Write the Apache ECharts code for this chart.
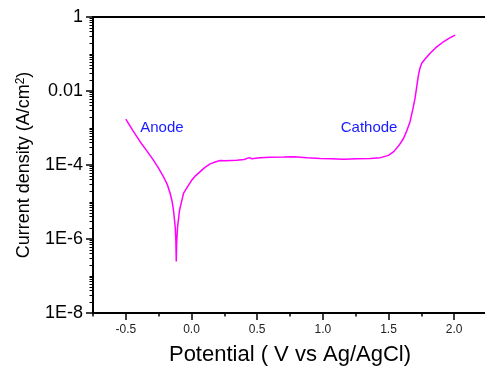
<!DOCTYPE html>
<html>
<head>
<meta charset="utf-8">
<script src="https://cdn.jsdelivr.net/npm/echarts@6/dist/echarts.min.js"></script>
<style>
html, body { margin: 0; padding: 0; background: #fff; }
#chart { width: 485px; height: 373px; }
</style>
</head>
<body>
<div id="chart"></div>
<script>
// potential (V vs Ag/AgCl) and current density (A/cm2)
var potential = [
	-0.50, -0.45, -0.39, -0.34, -0.29, -0.25, -0.213, -0.185, -0.162, -0.148,
	-0.137, -0.124, -0.119, -0.116, -0.113, -0.106, -0.091, -0.073, -0.061, -0.03,
	0.0, 0.03, 0.066, 0.10, 0.142, 0.18, 0.218, 0.26, 0.30, 0.345,
	0.40, 0.44, 0.46, 0.52, 0.60, 0.70, 0.78, 0.88, 0.98, 1.06,
	1.16, 1.26, 1.36, 1.44, 1.50, 1.54, 1.58, 1.614, 1.64, 1.664,
	1.685, 1.702, 1.715, 1.728, 1.74, 1.753, 1.78, 1.817, 1.86, 1.918,
	1.96, 2.007
];
var current = [
	1.74e-3, 8.9e-4, 4.2e-4, 2.4e-4, 1.35e-4, 8.1e-5, 4.8e-5, 3.0e-5, 1.7e-5, 1.05e-5,
	6.0e-6, 2.1e-6, 8.9e-7, 2.45e-7, 7.9e-7, 2.1e-6, 6.0e-6, 1.12e-5, 1.7e-5, 2.6e-5,
	3.8e-5, 5.1e-5, 6.6e-5, 8.5e-5, 1.07e-4, 1.2e-4, 1.32e-4, 1.30e-4, 1.33e-4, 1.35e-4,
	1.41e-4, 1.58e-4, 1.48e-4, 1.58e-4, 1.62e-4, 1.64e-4, 1.66e-4, 1.58e-4, 1.51e-4, 1.48e-4,
	1.43e-4, 1.48e-4, 1.50e-4, 1.58e-4, 1.82e-4, 2.3e-4, 3.4e-4, 5.2e-4, 8.5e-4, 1.48e-3,
	3.2e-3, 6.3e-3, 1.32e-2, 2.7e-2, 4.2e-2, 5.6e-2, 7.4e-2, 0.105, 0.148, 0.214,
	0.263, 0.324
];

// x tick labels and annotations
var xTickLabels = [-0.5, 0.0, 0.5, 1.0, 1.5, 2.0];
var noteText = ['Anode', 'Cathode'];
var noteX = [-0.225, 1.352];
var noteY = [1.0e-3, 1.0e-3];

var FONT = 'Liberation Sans, Arial, sans-serif';

var seriesData = [];
for (var i = 0; i < potential.length; i++) {
	seriesData.push([potential[i], current[i]]);
}

// minor ticks of the log axis (exponent space)
var yMinor = [];
for (var k = -8; k < 0; k++) {
	for (var m = 2; m <= 9; m++) {
		yMinor.push(k + Math.log10(m));
	}
	if ((k + 1) % 2 !== 0) yMinor.push(k + 1);
}

var notePoints = [];
for (var j = 0; j < noteText.length; j++) {
	notePoints.push({
		coord: [noteX[j], noteY[j]],
		symbolSize: 0,
		label: {
			show: true,
			position: 'inside',
			formatter: noteText[j],
			color: '#1a1aff',
			fontSize: 15,
			fontFamily: FONT
		}
	});
}

var option = {
	animation: false,
	backgroundColor: '#ffffff',
	grid: {
		left: 93,
		top: 17,
		right: -2,
		bottom: 60,
		outerBoundsMode: 'none'
	},
	xAxis: [
		{
			type: 'value',
			min: -0.75,
			max: 2.25,
			position: 'bottom',
			name: 'Potential ( V vs Ag/AgCl)',
			nameLocation: 'middle',
			nameGap: 31,
			nameTextStyle: { fontSize: 22, color: '#000', fontFamily: FONT },
			axisLine: { show: true, onZero: false, lineStyle: { color: '#000', width: 2 } },
			axisTick: { show: true, customValues: xTickLabels, length: 7, lineStyle: { color: '#000', width: 1.5 } },
			axisLabel: {
				customValues: xTickLabels,
				formatter: function (v) { return v.toFixed(1); },
				fontSize: 12,
				margin: 11,
				color: '#222',
				fontFamily: FONT
			},
			splitLine: { show: false }
		},
		{
			type: 'value',
			min: -0.75,
			max: 2.25,
			interval: 0.25,
			position: 'bottom',
			axisLine: { show: false, onZero: false },
			axisTick: { show: true, length: 3.5, lineStyle: { color: '#000', width: 1.5 } },
			axisLabel: { show: false },
			splitLine: { show: false }
		},
		{
			type: 'value',
			min: -0.75,
			max: 2.25,
			position: 'top',
			axisLine: { show: true, onZero: false, lineStyle: { color: '#000', width: 2 } },
			axisTick: { show: false },
			axisLabel: { show: false },
			splitLine: { show: false }
		}
	],
	yAxis: [
		{
			type: 'log',
			logBase: 10,
			min: 1e-8,
			max: 1,
			position: 'left',
			name: 'Current density (A/cm{sup|2})',
			nameLocation: 'middle',
			nameGap: 60,
			nameRotate: 90,
			nameTextStyle: {
				fontSize: 18,
				color: '#000',
				fontFamily: FONT,
				rich: {
					sup: { fontSize: 12, verticalAlign: 'top', color: '#000', fontFamily: FONT }
				}
			},
			axisLine: { show: true, onZero: false, lineStyle: { color: '#000', width: 2 } },
			axisTick: { show: false },
			axisLabel: { show: false },
			splitLine: { show: false }
		},
		{
			type: 'value',
			min: -8,
			max: 0,
			interval: 2,
			position: 'left',
			axisLine: { show: false, onZero: false },
			axisTick: { show: true, length: 7, lineStyle: { color: '#000', width: 1.5 } },
			axisLabel: {
				fontSize: 18,
				margin: 10,
				color: '#000',
				fontFamily: FONT,
				formatter: function (e) {
					e = Math.round(e);
					if (e === 0) return '1';
					if (e === -2) return '0.01';
					return '1E' + e;
				}
			},
			splitLine: { show: false }
		},
		{
			type: 'value',
			min: -8,
			max: 0,
			position: 'left',
			axisLine: { show: false, onZero: false },
			axisTick: { show: true, customValues: yMinor, length: 3.5, lineStyle: { color: '#000', width: 1 } },
			axisLabel: { show: false },
			splitLine: { show: false }
		}
	],
	series: [
		{
			type: 'line',
			xAxisIndex: 0,
			yAxisIndex: 0,
			data: seriesData,
			showSymbol: false,
			lineStyle: { color: '#ff00ff', width: 1.5 },
			markPoint: {
				symbol: 'circle',
				data: notePoints
			}
		}
	]
};

var myChart = echarts.init(document.getElementById('chart'));
myChart.setOption(option);
</script>
</body>
</html>
